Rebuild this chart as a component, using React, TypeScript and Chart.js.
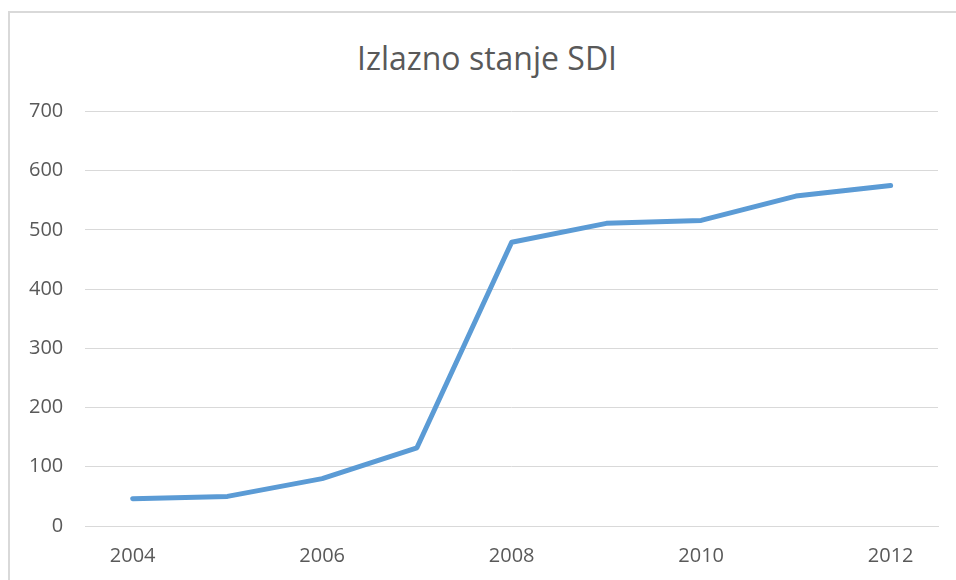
import React, { useEffect, useRef } from "react";
import { Chart, registerables } from "chart.js";

Chart.register(...registerables);

const years = ["2004", "2005", "2006", "2007", "2008", "2009", "2010", "2011", "2012"];
const sdiValues = [46, 50, 80, 132, 479, 511, 516, 557, 575];
const yTicks = [0, 100, 200, 300, 400, 500, 600, 700];
const titleText = "Izlazno stanje SDI";

const FONT = "'Open Sans', 'Noto Sans', sans-serif";

export default function App() {
  const ref = useRef<HTMLCanvasElement | null>(null);

  useEffect(() => {
    if (!ref.current) return;
    const chart = new Chart(ref.current, {
      type: "line",
      data: {
        labels: years,
        datasets: [
          {
            label: titleText,
            data: sdiValues,
            borderColor: "#5b9bd5",
            backgroundColor: "#5b9bd5",
            borderWidth: 5,
            pointRadius: 0,
            borderCapStyle: "round",
            borderJoinStyle: "round",
            tension: 0,
          },
        ],
      },
      options: {
        animation: false,
        responsive: false,
        maintainAspectRatio: false,
        layout: { padding: { left: 0, right: 16, top: 98.4, bottom: 0 } },
        plugins: {
          legend: { display: false },
          tooltip: { enabled: false },
          title: { display: false },
        },
        scales: {
          x: {
            offset: true,
            grid: { display: false, drawTicks: false },
            border: { display: true, color: "#d9d9d9", width: 1 },
            ticks: {
              color: "#595959",
              font: { family: FONT, size: 20 },
              padding: 18,
              autoSkip: false,
              maxRotation: 0,
              callback: (_v: any, i: number) => (i % 2 === 0 ? years[i] : null),
            },
          },
          y: {
            min: yTicks[0],
            max: yTicks[yTicks.length - 1],
            afterBuildTicks: (axis: any) => {
              axis.ticks = yTicks.map((v) => ({ value: v }));
            },
            grid: { color: "#d9d9d9", lineWidth: 1, drawTicks: false },
            border: { display: false },
            ticks: {
              color: "#595959",
              font: { family: FONT, size: 20 },
              padding: 22,
            },
          },
        },
      },
    });
    return () => chart.destroy();
  }, []);

  return (
    <div
      style={{
        position: "fixed",
        left: 0,
        top: 0,
        width: 956,
        height: 580,
        overflow: "hidden",
        background: "#fff",
      }}
    >
      <div
        style={{
          position: "absolute",
          left: 8,
          top: 11,
          width: 1000,
          height: 700,
          border: "2px solid #d9d9d9",
          boxSizing: "border-box",
        }}
      />
      <div
        style={{
          position: "absolute",
          left: 0,
          top: 39,
          width: 974,
          height: 38,
          lineHeight: "38.4px",
          textAlign: "center",
          fontFamily: FONT,
          fontSize: 32,
          color: "#595959",
          whiteSpace: "nowrap",
        }}
      >
        {titleText}
      </div>
      <canvas
        ref={ref}
        width={947}
        height={573}
        style={{ position: "absolute", left: 7, top: 13, width: 947, height: 573 }}
      />
    </div>
  );
}
